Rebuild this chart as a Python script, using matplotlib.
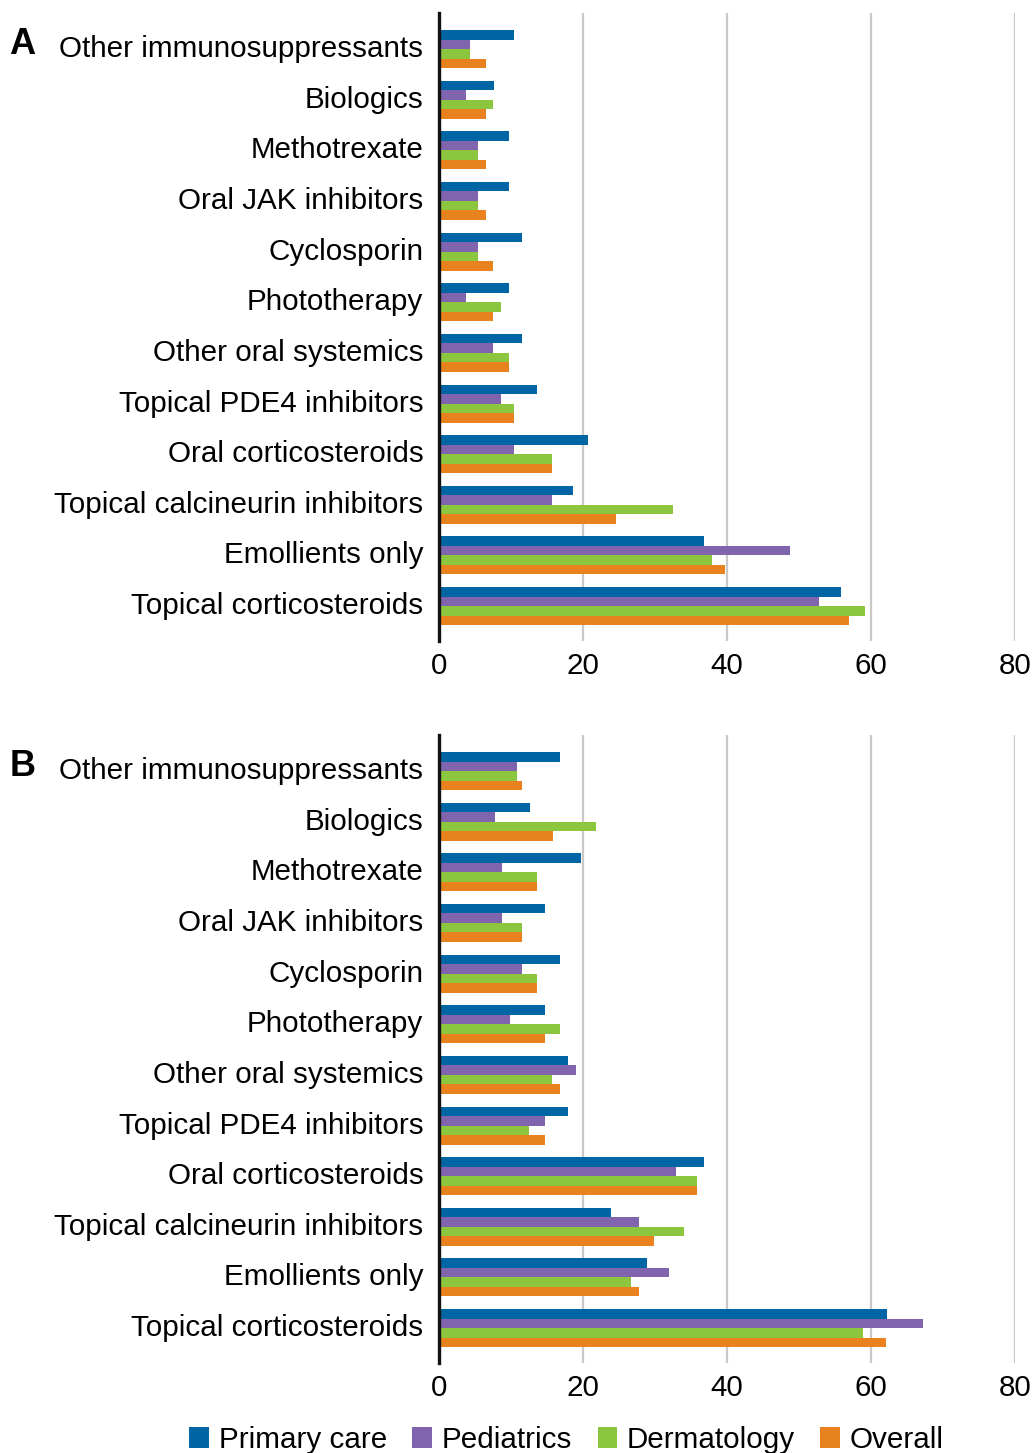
import numpy as np
import matplotlib
matplotlib.use('Agg')
import matplotlib.pyplot as plt
from matplotlib.transforms import ScaledTranslation

plt.rcParams['font.family'] = ['Liberation Sans', 'DejaVu Sans']

categories = ['Other immunosuppressants', 'Biologics', 'Methotrexate',
              'Oral JAK inhibitors', 'Cyclosporin', 'Phototherapy',
              'Other oral systemics', 'Topical PDE4 inhibitors',
              'Oral corticosteroids', 'Topical calcineurin inhibitors',
              'Emollients only', 'Topical corticosteroids']
series = ['Primary care', 'Pediatrics', 'Dermatology', 'Overall']
colours = ['#0065a4', '#8064ae', '#8cc63e', '#e8821e']

# panel A values (%), top category first
a_primary = [10.5, 7.7, 9.8, 9.8, 11.6, 9.8, 11.6, 13.7, 20.7, 18.6, 36.9, 55.9]
a_peds = [4.4, 3.8, 5.5, 5.5, 5.5, 3.8, 7.6, 8.7, 10.5, 15.8, 48.8, 52.8]
a_derm = [4.4, 7.6, 5.5, 5.5, 5.5, 8.7, 9.8, 10.5, 15.8, 32.6, 37.9, 59.2]
a_overall = [6.6, 6.6, 6.6, 6.6, 7.6, 7.6, 9.8, 10.5, 15.8, 24.6, 39.7, 57.0]

# panel B values (%)
b_primary = [16.9, 12.7, 19.7, 14.8, 16.9, 14.8, 18.0, 18.0, 36.9, 23.9, 28.9, 62.2]
b_peds = [10.9, 7.8, 8.8, 8.8, 11.6, 9.9, 19.0, 14.8, 33.0, 27.8, 32.0, 67.2]
b_derm = [10.9, 21.8, 13.7, 11.6, 13.7, 16.9, 15.8, 12.6, 35.8, 34.1, 26.7, 58.9]
b_overall = [11.6, 15.9, 13.7, 11.6, 13.7, 14.8, 16.9, 14.8, 35.8, 29.9, 27.8, 62.1]

panels = [('A', [a_primary, a_peds, a_derm, a_overall]),
          ('B', [b_primary, b_peds, b_derm, b_overall])]

fig = plt.figure(figsize=(10.36, 14.53), dpi=100)
bottoms = [0.5588, 0.0619]
fs = 21.3
h = 0.1875
y = np.arange(len(categories))
shift_up = ScaledTranslation(0, 3 / 100, fig.dpi_scale_trans)

for (letter, data), bot in zip(panels, bottoms):
    ax = fig.add_axes([0.4234, bot, 0.5563, 0.4322])
    for i, vals in enumerate(data):
        ax.barh(y + (i - 1.5) * h, vals, height=h, color=colours[i],
                label=series[i], zorder=3)
    ax.set_ylim(11.69, -0.71)
    ax.set_xlim(0, 80)
    ax.set_xticks([0, 20, 40, 60, 80])
    ax.set_yticks(y)
    ax.set_yticklabels(categories)
    ax.tick_params(axis='y', length=0, pad=11, labelsize=fs)
    ax.tick_params(axis='x', length=0, pad=8, labelsize=fs)
    for lab in ax.get_yticklabels():
        lab.set_transform(lab.get_transform() + shift_up)
    ax.grid(axis='x', color='#c8c8c8', linewidth=1.6, zorder=0)
    for s in ['top', 'right', 'bottom']:
        ax.spines[s].set_visible(False)
    ax.spines['left'].set_linewidth(2.4)
    ax.spines['left'].set_color('#111111')
    ax.spines['left'].set_zorder(4)
    fig.text(0.009, bot + 0.4322 - 0.0215, letter, fontsize=26,
             fontweight='bold', va='center', ha='left')

handles, labels = ax.get_legend_handles_labels()
fig.legend(handles, labels, loc='center', bbox_to_anchor=(0.547, 0.009),
           ncol=4, frameon=False, fontsize=fs, handlelength=0.67,
           handleheight=0.67, handletextpad=0.33, columnspacing=0.85,
           borderaxespad=0, borderpad=0)

fig.savefig('out.png', dpi=100)
